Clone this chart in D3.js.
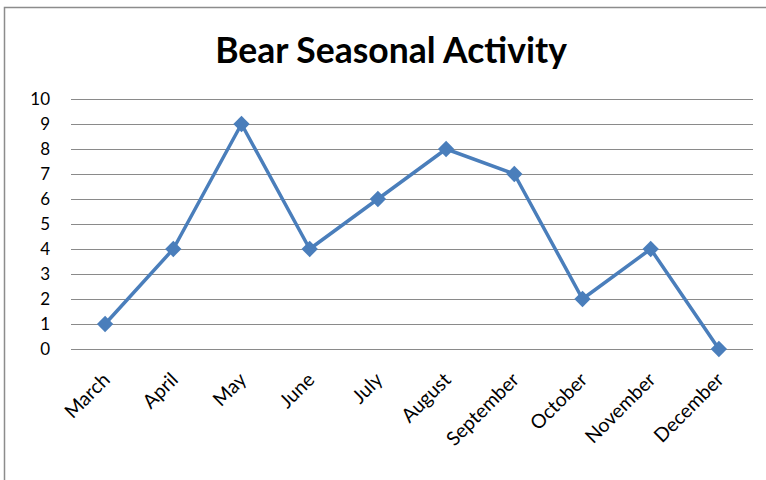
<!DOCTYPE html>
<html>
<head>
<meta charset="utf-8">
<script src="https://cdn.jsdelivr.net/npm/d3@7"></script>
<style>
  body { margin: 0; background: #fff; }
  svg text { font-family: Lato, "Open Sans", sans-serif; }
</style>
</head>
<body>
<svg id="chart" width="766" height="480"></svg>
<script>
let months = ['March', 'April', 'May', 'June', 'July', 'August', 'September', 'October', 'November', 'December']
let activity = [1, 4, 9, 4, 6, 8, 7, 2, 4, 0]
let yTicks = [0, 1, 2, 3, 4, 5, 6, 7, 8, 9, 10]

let margin = {top: 99, right: 13, bottom: 131, left: 71}
let width = 766
let height = 480

let svg = d3.select('#chart')

// outer frame
svg.append('rect')
    .attr('x', 4.5)
    .attr('y', 7.5)
    .attr('width', 780)
    .attr('height', 500)
    .attr('fill', 'none')
    .attr('stroke', '#8c8c8c')
    .attr('stroke-width', 1.5)

svg.append('text')
    .attr('x', 391)
    .attr('y', 63)
    .attr('text-anchor', 'middle')
    .style('font-size', '35.5px')
    .style('font-weight', 'bold')
    .text('Bear Seasonal Activity')

let x = d3.scaleBand()
    .domain(months)
    .range([margin.left, width - margin.right])

let y = d3.scaleLinear()
    .domain([0, 10])
    .range([height - margin.bottom, margin.top])

// gridlines
svg.append('g')
    .selectAll('line')
    .data(yTicks)
    .enter().append('line')
    .attr('x1', margin.left)
    .attr('x2', width - margin.right)
    .attr('y1', d => Math.round(y(d)) + 0.5)
    .attr('y2', d => Math.round(y(d)) + 0.5)
    .attr('stroke', '#8a8a8a')
    .attr('stroke-width', 1)

// y labels
svg.append('g')
    .selectAll('text')
    .data(yTicks)
    .enter().append('text')
    .attr('x', 50)
    .attr('y', d => y(d) + 6)
    .attr('text-anchor', 'end')
    .style('font-size', '17px')
    .attr('fill', '#000')
    .text(d => d)

// x labels
svg.append('g')
    .selectAll('text')
    .data(months)
    .enter().append('text')
    .attr('text-anchor', 'end')
    .attr('transform', d => 'translate(' + (x(d) + x.bandwidth() / 2 + 6) + ',381) rotate(-45)')
    .style('font-size', '19.5px')
    .attr('fill', '#000')
    .text(d => d)

let line = d3.line()
    .x((d, i) => x(months[i]) + x.bandwidth() / 2)
    .y(d => y(d))

svg.append('path')
    .datum(activity)
    .attr('d', line)
    .attr('fill', 'none')
    .attr('stroke', '#4a7ebb')
    .attr('stroke-width', 3.5)
    .attr('stroke-linejoin', 'round')

let diamond = d3.symbol().type(d3.symbolDiamond2).size(170)

svg.append('g')
    .selectAll('path')
    .data(activity)
    .enter().append('path')
    .attr('d', diamond)
    .attr('transform', (d, i) => 'translate(' + (x(months[i]) + x.bandwidth() / 2) + ',' + y(d) + ')')
    .attr('fill', '#4a7ebb')
</script>
</body>
</html>
